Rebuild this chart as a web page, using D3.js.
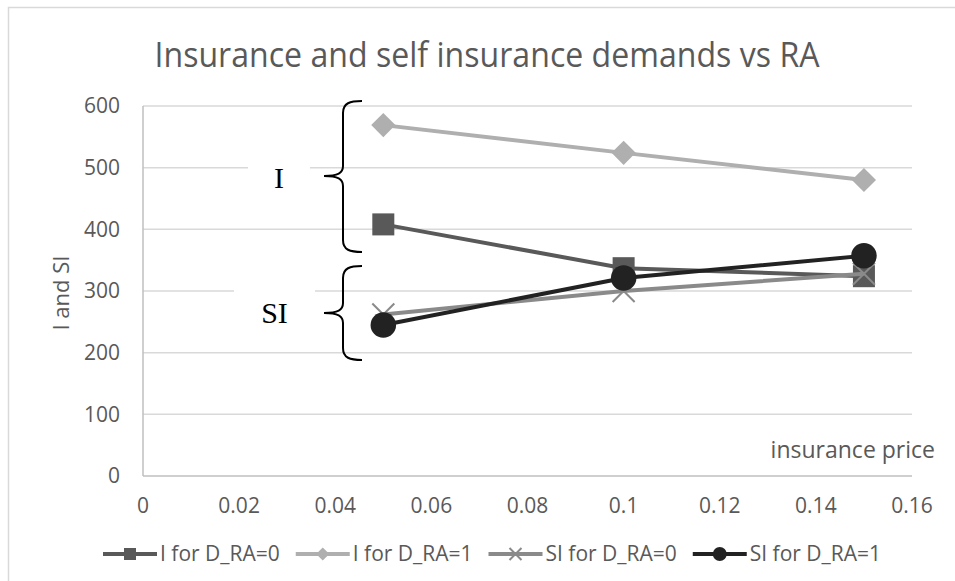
<!DOCTYPE html>
<html>
<head>
<meta charset="utf-8">
<script src="https://cdn.jsdelivr.net/npm/d3@7"></script>
<style>
  body { margin: 0; background: #fff; }
  text { font-family: "Open Sans", "Liberation Sans", sans-serif; fill: #595959; }
</style>
</head>
<body>
<svg width="955" height="581"></svg>
<script>
const prices = [0.05, 0.1, 0.15];
const iRa0 = [408, 337, 324];
const iRa1 = [569, 524, 480];
const siRa0 = [262, 300, 328];
const siRa1 = [245, 321, 357];
const seriesNames = ["I for D_RA=0", "I for D_RA=1", "SI for D_RA=0", "SI for D_RA=1"];
const xTicks = [0, 0.02, 0.04, 0.06, 0.08, 0.1, 0.12, 0.14, 0.16];
const yTicks = [0, 100, 200, 300, 400, 500, 600];

const series = [
  { name: seriesNames[0], values: iRa0, color: "#595959", marker: "square" },
  { name: seriesNames[1], values: iRa1, color: "#afafaf", marker: "diamond" },
  { name: seriesNames[2], values: siRa0, color: "#8a8a8a", marker: "cross" },
  { name: seriesNames[3], values: siRa1, color: "#222222", marker: "circle" }
];

const margin = { top: 106, right: 43, bottom: 105, left: 143 };
const width = 955 - margin.left - margin.right;
const height = 581 - margin.top - margin.bottom;

const svg = d3.select("svg");

// chart area border
svg.append("path")
  .attr("d", "M8.5,581 L8.5,7.5 L955,7.5")
  .attr("fill", "none")
  .attr("stroke", "#d9d9d9")
  .attr("stroke-width", 1.5);

svg.append("text")
  .attr("x", 487)
  .attr("y", 67)
  .attr("text-anchor", "middle")
  .attr("textLength", 665)
  .attr("lengthAdjust", "spacingAndGlyphs")
  .style("font-size", "34px")
  .text("Insurance and self insurance demands vs RA");

const g = svg.append("g")
  .attr("transform", `translate(${margin.left},${margin.top})`);

const x = d3.scaleLinear().domain([0, 0.16]).range([0, width]);
const y = d3.scaleLinear().domain([0, 600]).range([height, 0]);

// gridlines
g.append("g")
  .selectAll("line")
  .data(yTicks.filter(d => d > 0))
  .enter()
  .append("line")
  .attr("x1", 0)
  .attr("x2", width)
  .attr("y1", d => y(d))
  .attr("y2", d => y(d))
  .attr("stroke", "#d9d9d9")
  .attr("stroke-width", 1.5);

// axis lines
g.append("line")
  .attr("x1", 0).attr("x2", width)
  .attr("y1", height).attr("y2", height)
  .attr("stroke", "#bfbfbf").attr("stroke-width", 1.5);
g.append("line")
  .attr("x1", 0).attr("x2", 0)
  .attr("y1", 0).attr("y2", height)
  .attr("stroke", "#bfbfbf").attr("stroke-width", 1.5);

// tick labels
g.append("g")
  .selectAll("text")
  .data(yTicks)
  .enter()
  .append("text")
  .attr("x", -23)
  .attr("y", d => y(d))
  .attr("dy", "0.35em")
  .attr("text-anchor", "end")
  .style("font-size", "21px")
  .text(d => d);

g.append("g")
  .selectAll("text")
  .data(xTicks)
  .enter()
  .append("text")
  .attr("x", d => x(d))
  .attr("y", height + 37)
  .attr("text-anchor", "middle")
  .style("font-size", "21px")
  .text(d => d);

svg.append("text")
  .attr("transform", "translate(61,293) rotate(-90)")
  .attr("text-anchor", "middle")
  .attr("dy", "0.35em")
  .style("font-size", "22px")
  .text("I and SI");

svg.append("text")
  .attr("x", 935)
  .attr("y", 458)
  .attr("text-anchor", "end")
  .style("font-size", "23px")
  .text("insurance price");

// bracket annotations
function brace(top, mid, bottom) {
  return `M362,${top} C350,${top} 343,${top + 2} 343,${top + 12} L343,${mid - 10} C343,${mid - 3} 338,${mid} 324,${mid} ` +
    `C338,${mid} 343,${mid + 3} 343,${mid + 10} L343,${bottom - 12} C343,${bottom - 2} 350,${bottom} 362,${bottom}`;
}
const notes = [
  { label: "I", top: 101, mid: 176, bottom: 252, bx: 248, bw: 62, ty: 188 },
  { label: "SI", top: 266, mid: 313, bottom: 360, bx: 234, bw: 81, ty: 323 }
];
notes.forEach(n => {
  svg.append("rect")
    .attr("x", n.bx).attr("y", n.ty - 36)
    .attr("width", n.bw).attr("height", 48)
    .attr("fill", "#fff");
  svg.append("text")
    .attr("x", n.bx + n.bw / 2)
    .attr("y", n.ty)
    .attr("text-anchor", "middle")
    .style("font-family", "'Liberation Serif', 'DejaVu Serif', serif")
    .style("font-size", "30px")
    .style("fill", "#000")
    .text(n.label);
  svg.append("path")
    .attr("d", brace(n.top, n.mid, n.bottom))
    .attr("fill", "none")
    .attr("stroke", "#000")
    .attr("stroke-width", 2);
});

function drawMarker(sel, type, color, size) {
  if (type === "square") {
    sel.append("rect")
      .attr("x", -size / 2).attr("y", -size / 2)
      .attr("width", size).attr("height", size)
      .attr("fill", color);
  } else if (type === "diamond") {
    const h = size * 0.55;
    sel.append("path")
      .attr("d", `M0,${-h} L${h},0 L0,${h} L${-h},0 Z`)
      .attr("fill", color);
  } else if (type === "circle") {
    sel.append("circle").attr("r", size * 0.58).attr("fill", color);
  } else {
    const h = size / 2;
    sel.append("path")
      .attr("d", `M${-h},${-h} L${h},${h} M${-h},${h} L${h},${-h}`)
      .attr("stroke", color)
      .attr("stroke-width", 2);
  }
}

const line = d3.line().x(d => x(d[0])).y(d => y(d[1]));

series.forEach(s => {
  const pts = prices.map((p, i) => [p, s.values[i]]);
  g.append("path")
    .datum(pts)
    .attr("d", line)
    .attr("fill", "none")
    .attr("stroke", s.color)
    .attr("stroke-width", 4);
  g.selectAll(null)
    .data(pts)
    .enter()
    .append("g")
    .attr("transform", d => `translate(${x(d[0])},${y(d[1])})`)
    .each(function () { drawMarker(d3.select(this), s.marker, s.color, 22); });
});

// legend
let lx = 103;
const ly = 554;
series.forEach(s => {
  svg.append("line")
    .attr("x1", lx).attr("x2", lx + 54)
    .attr("y1", ly).attr("y2", ly)
    .attr("stroke", s.color).attr("stroke-width", 4);
  const mg = svg.append("g").attr("transform", `translate(${lx + 27},${ly})`);
  drawMarker(mg, s.marker, s.color, 12);
  const t = svg.append("text")
    .attr("x", lx + 57)
    .attr("y", ly)
    .attr("dy", "0.35em")
    .style("font-size", "21px")
    .text(s.name);
  lx += 57 + t.node().getComputedTextLength() + 16;
});
</script>
</body>
</html>
